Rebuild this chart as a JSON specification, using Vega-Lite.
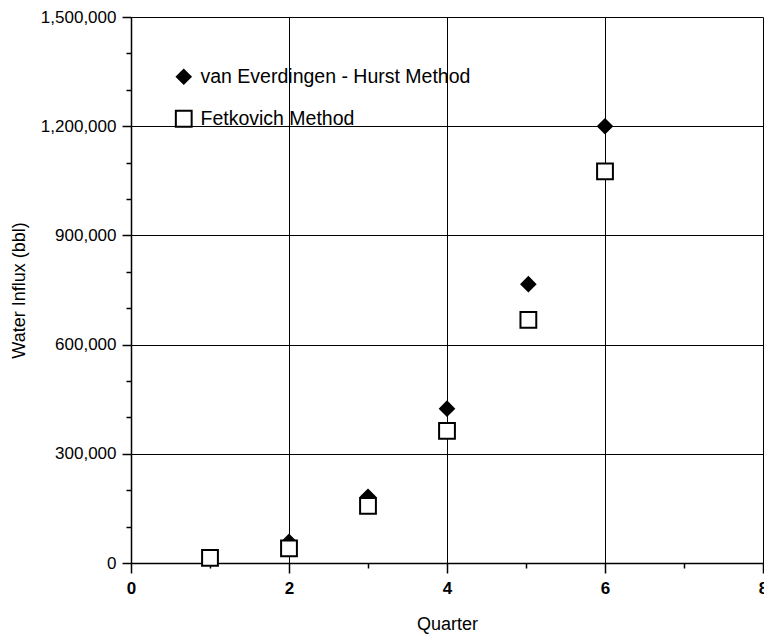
{
  "$schema": "https://vega.github.io/schema/vega-lite/v6.json",
  "autosize": "none",
  "width": 632,
  "height": 546,
  "padding": {"left": 131, "top": 17, "right": 1, "bottom": 71},
  "background": "white",
  "config": {
    "view": {"stroke": "black", "strokeWidth": 1},
    "font": "Liberation Sans"
  },
  "data": {
    "values": [
      {"quarter": 2, "influx": 58000, "method": "van Everdingen - Hurst Method"},
      {"quarter": 3, "influx": 182000, "method": "van Everdingen - Hurst Method"},
      {"quarter": 4, "influx": 424000, "method": "van Everdingen - Hurst Method"},
      {"quarter": 5.03, "influx": 766000, "method": "van Everdingen - Hurst Method"},
      {"quarter": 6, "influx": 1200000, "method": "van Everdingen - Hurst Method"},
      {"quarter": 1, "influx": 14000, "method": "Fetkovich Method"},
      {"quarter": 2, "influx": 40000, "method": "Fetkovich Method"},
      {"quarter": 3, "influx": 157000, "method": "Fetkovich Method"},
      {"quarter": 4, "influx": 363000, "method": "Fetkovich Method"},
      {"quarter": 5.03, "influx": 668000, "method": "Fetkovich Method"},
      {"quarter": 6, "influx": 1076000, "method": "Fetkovich Method"}
    ]
  },
  "mark": {"type": "point", "stroke": "black", "strokeWidth": 2, "opacity": 1, "filled": false},
  "encoding": {
    "x": {
      "field": "quarter", "type": "quantitative", "title": "Quarter",
      "scale": {"domain": [0, 8], "nice": false, "zero": false},
      "axis": {
        "values": [0, 1, 2, 3, 4, 5, 6, 7, 8],
        "labelExpr": "datum.value % 2 === 0 ? format(datum.value, 'd') : ''",
        "grid": true,
        "gridColor": "black",
        "gridOpacity": {"expr": "datum.value % 2 === 0 && datum.value > 0 && datum.value < 8 ? 1 : 0"},
        "gridWidth": 1,
        "domainColor": "black",
        "domainWidth": 1.5,
        "tickColor": "black",
        "tickWidth": 1.5,
        "tickSize": {"expr": "datum.value % 2 === 0 ? 10 : 5"},
        "labelFontSize": 17,
        "labelFontWeight": "bold",
        "labelColor": "black",
        "labelPadding": 7,
        "labelFlush": false,
        "titleFontSize": 18,
        "titleFontWeight": "normal",
        "titleColor": "black",
        "titlePadding": 19
      }
    },
    "y": {
      "field": "influx", "type": "quantitative", "title": "Water Influx (bbl)",
      "scale": {"domain": [0, 1500000], "nice": false},
      "axis": {
        "values": [0, 100000, 200000, 300000, 400000, 500000, 600000, 700000, 800000, 900000, 1000000, 1100000, 1200000, 1300000, 1400000, 1500000],
        "labelExpr": "datum.value % 300000 === 0 ? format(datum.value, ',') : ''",
        "grid": true,
        "gridColor": "black",
        "gridOpacity": {"expr": "datum.value % 300000 === 0 && datum.value > 0 && datum.value < 1500000 ? 1 : 0"},
        "gridWidth": 1,
        "domainColor": "black",
        "domainWidth": 1.5,
        "tickColor": "black",
        "tickWidth": 1.5,
        "tickSize": {"expr": "datum.value % 300000 === 0 ? 9 : 5"},
        "labelFontSize": 17,
        "labelFontWeight": "normal",
        "labelColor": "black",
        "labelPadding": 6,
        "labelFlush": false,
        "titleFontSize": 18,
        "titleFontWeight": "normal",
        "titleColor": "black",
        "titlePadding": 12
      }
    },
    "shape": {
      "field": "method", "type": "nominal",
      "scale": {"domain": ["van Everdingen - Hurst Method", "Fetkovich Method"], "range": ["diamond", "square"]},
      "legend": {
        "orient": "none", "legendX": 43, "legendY": 50, "title": null,
        "padding": 0, "rowPadding": 18, "labelFontSize": 19.5, "labelColor": "black",
        "labelFont": "Liberation Sans", "labelOffset": 7, "labelLimit": 0,
        "symbolStrokeWidth": 2, "symbolStrokeColor": "black"
      }
    },
    "fill": {
      "field": "method", "type": "nominal",
      "scale": {"domain": ["van Everdingen - Hurst Method", "Fetkovich Method"], "range": ["black", "white"]}
    },
    "size": {
      "field": "method", "type": "nominal",
      "scale": {"domain": ["van Everdingen - Hurst Method", "Fetkovich Method"], "range": [190, 250]}
    }
  }
}
